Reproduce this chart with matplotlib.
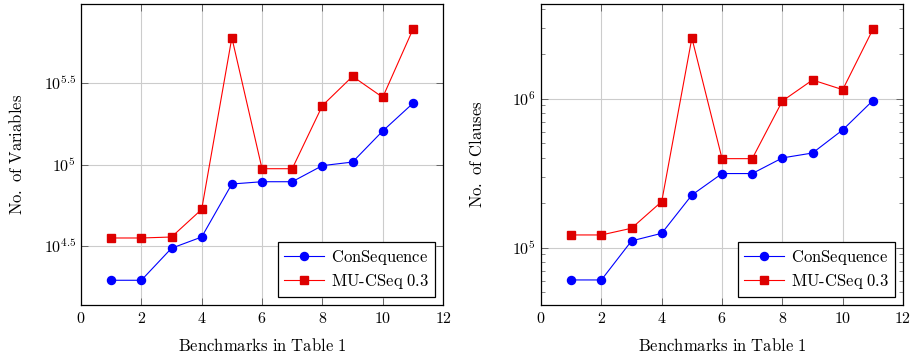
import numpy as np
import matplotlib.pyplot as plt
from matplotlib.ticker import FixedLocator, LogLocator, NullLocator

plt.rcParams['mathtext.fontset'] = 'cm'
plt.rcParams['font.family'] = 'DejaVu Serif'

benchmarks = [1, 2, 3, 4, 5, 6, 7, 8, 9, 10, 11]

# log10 values
vars_conseq_log = [4.289, 4.289, 4.486, 4.555, 4.881, 4.895, 4.895, 4.994, 5.016, 5.207, 5.377]
vars_mucseq_log = [4.549, 4.549, 4.555, 4.725, 5.781, 4.975, 4.975, 5.363, 5.543, 5.414, 5.832]
clauses_conseq_log = [4.783, 4.783, 5.045, 5.096, 5.353, 5.497, 5.497, 5.602, 5.635, 5.790, 5.987]
clauses_mucseq_log = [5.085, 5.085, 5.130, 5.309, 6.407, 5.597, 5.597, 5.984, 6.125, 6.060, 6.465]

vars_conseq = 10 ** np.array(vars_conseq_log)
vars_mucseq = 10 ** np.array(vars_mucseq_log)
clauses_conseq = 10 ** np.array(clauses_conseq_log)
clauses_mucseq = 10 ** np.array(clauses_mucseq_log)

fig = plt.figure(figsize=(9.13, 3.56), dpi=100)
ax1 = fig.add_axes([0.0887, 0.1433, 0.3966, 0.8455])
ax2 = fig.add_axes([0.5926, 0.1433, 0.3965, 0.8455])


def style(ax, x1, y1, x2, y2, ylabel, ylim):
    ax.plot(x1, y1, color='blue', lw=0.8, marker='o', ms=5.8,
            mfc='blue', mec='blue', label=r'$\mathrm{ConSequence}$')
    ax.plot(x2, y2, color='red', lw=0.8, marker='s', ms=5.4,
            mfc='#dd0000', mec='#dd0000', label=r'$\mathrm{MU\text{-}CSeq\ 0.3}$')
    ax.set_yscale('log')
    ax.set_xlim(0, 12)
    ax.set_ylim(10 ** ylim[0], 10 ** ylim[1])
    ax.set_xticks(range(0, 13, 2))
    ax.set_xticklabels([r'$%d$' % v for v in range(0, 13, 2)])
    ax.grid(True, which='major', color='#cccccc', lw=0.8)
    ax.set_axisbelow(True)
    ax.tick_params(which='both', direction='in', top=True, right=True,
                   labelsize=11.5, color='#555555')
    ax.tick_params(which='major', length=5, width=0.6)
    ax.tick_params(which='minor', length=3, width=0.5)
    for s in ax.spines.values():
        s.set_linewidth(0.9)
    ax.set_xlabel(r'$\mathrm{Benchmarks\ in\ Table\ 1}$', fontsize=12, labelpad=8)
    ax.set_ylabel(ylabel, fontsize=12)
    ax.yaxis.set_label_coords(-55 / 362, 0.5)
    leg = ax.legend(loc='lower right', fontsize=12, fancybox=False,
                    edgecolor='black', framealpha=1, borderaxespad=0.5,
                    handlelength=2.4, borderpad=0.35, labelspacing=0.3,
                    handletextpad=0.4)
    leg.get_frame().set_linewidth(0.9)


style(ax1, benchmarks, vars_conseq, benchmarks, vars_mucseq,
      r'$\mathrm{No.\ of\ Variables}$', (4.137, 5.988))
ax1.yaxis.set_major_locator(FixedLocator([10 ** 4.5, 10 ** 5, 10 ** 5.5]))
ax1.yaxis.set_minor_locator(NullLocator())
ax1.set_yticklabels([r'$10^{4.5}$', r'$10^{5}$', r'$10^{5.5}$'])

style(ax2, benchmarks, clauses_conseq, benchmarks, clauses_mucseq,
      r'$\mathrm{No.\ of\ Clauses}$', (4.615, 6.635))
ax2.yaxis.set_major_locator(FixedLocator([1e5, 1e6]))
ax2.yaxis.set_minor_locator(LogLocator(base=10, subs=np.arange(2, 10)))
ax2.set_yticklabels([r'$10^{5}$', r'$10^{6}$'])

fig.savefig('out.png', dpi=100)
